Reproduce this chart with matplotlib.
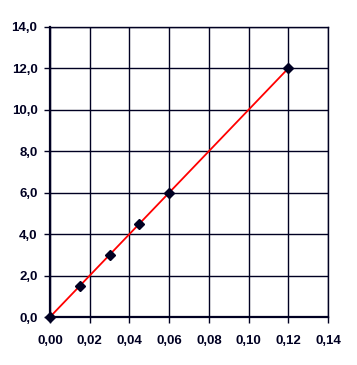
import matplotlib
matplotlib.use('Agg')
import matplotlib.pyplot as plt
from matplotlib.ticker import FuncFormatter

x_vals = [0.0, 0.015, 0.03, 0.045, 0.06, 0.12]
y_vals = [0.0, 1.5, 3.0, 4.5, 6.0, 12.0]
x_ticks = [0.0, 0.02, 0.04, 0.06, 0.08, 0.10, 0.12, 0.14]
y_ticks = [0.0, 2.0, 4.0, 6.0, 8.0, 10.0, 12.0, 14.0]

ink = '#000022'
plt.rcParams['font.family'] = ['Liberation Sans', 'DejaVu Sans']

fig = plt.figure(figsize=(3.57, 3.65), dpi=100)
ax = fig.add_axes([0.140, 0.1315, 0.779, 0.795])

ax.plot(x_vals, y_vals, color='red', lw=1.3, zorder=3)
ax.plot(x_vals, y_vals, ls='none', marker='D', ms=5.5, color=ink, zorder=4, clip_on=False)

ax.set_xlim(0, 0.14)
ax.set_ylim(0, 14)
ax.set_xticks(x_ticks)
ax.set_yticks(y_ticks)
ax.xaxis.set_major_formatter(FuncFormatter(lambda v, p: f'{v:.2f}'.replace('.', ',')))
ax.yaxis.set_major_formatter(FuncFormatter(lambda v, p: f'{v:.1f}'.replace('.', ',')))
ax.grid(True, color=ink, lw=1.0)
ax.set_axisbelow(True)
for s in ax.spines.values():
    s.set_color(ink)
    s.set_linewidth(1.0)
ax.spines['left'].set_linewidth(1.6)
ax.spines['bottom'].set_linewidth(1.6)
ax.tick_params(colors=ink, direction='out', length=4, width=1.0, pad=5, labelsize=9.5)
for lab in ax.get_xticklabels() + ax.get_yticklabels():
    lab.set_fontweight('bold')
ax.tick_params(axis='x', pad=9)

fig.savefig('out.png', dpi=100)
